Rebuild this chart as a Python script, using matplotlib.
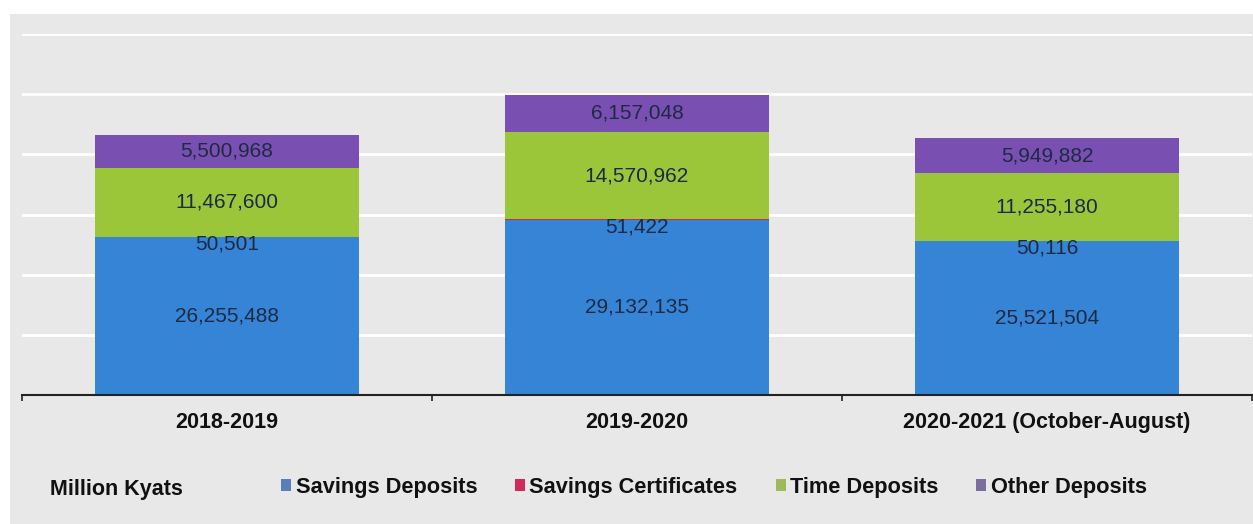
import numpy as np
import matplotlib.pyplot as plt
from matplotlib.patches import Patch, Rectangle

plt.rcParams['font.family'] = ['Liberation Sans', 'DejaVu Sans']

years = ['2018-2019', '2019-2020', '2020-2021 (October-August)']
series = ['Savings Deposits', 'Savings Certificates', 'Time Deposits', 'Other Deposits']
savings = [26255488, 29132135, 25521504]
certificates = [50501, 51422, 50116]
time_dep = [11467600, 14570962, 11255180]
other = [5500968, 6157048, 5949882]

bar_colors = ['#3684d6', '#d3264f', '#9cc63a', '#7a4fb2']
legend_colors = ['#5b7db8', '#d12a5a', '#9bbb59', '#7b6e9c']
label_offsets = [0, -5, 0, 0]

fig = plt.figure(figsize=(12.53, 5.24), dpi=100)
fig.patch.set_facecolor('white')
# grey chart area
fig.patches.append(Rectangle((10 / 1253, 0), 1, 1 - 14 / 524, transform=fig.transFigure,
                             facecolor='#e8e8e8', edgecolor='none', zorder=-10))

ax = fig.add_axes([22 / 1253, 129 / 524, 1230 / 1253, 361 / 524])
ax.set_facecolor('#e8e8e8')

x = np.arange(len(years))
bottom = np.zeros(len(years))
for vals, col, off in zip([savings, certificates, time_dep, other], bar_colors, label_offsets):
    vals = np.array(vals, dtype=float)
    ax.bar(x, vals, bottom=bottom, width=0.645, color=col, edgecolor='none', zorder=3)
    for xi, b, v in zip(x, bottom, vals):
        ax.annotate(f'{int(v):,}', (xi, b + v / 2), xytext=(0, off), textcoords='offset points',
                    ha='center', va='center', fontsize=15, color='#1c2a44', zorder=5)
    bottom += vals

ax.set_xlim(-0.5, 2.5)
ax.set_ylim(0, 60e6)
ax.set_yticks(np.arange(10e6, 60e6 + 1, 10e6))
ax.yaxis.grid(True, color='white', linewidth=2)
ax.set_axisbelow(True)
ax.tick_params(axis='y', left=False, labelleft=False)

ax.set_xticks(x)
ax.set_xticklabels(years, fontsize=15.5, fontweight='bold', color='#111111')
ax.set_xticks([-0.5, 0.5, 1.5, 2.5], minor=True)
ax.tick_params(axis='x', which='major', length=0, pad=12)
ax.tick_params(axis='x', which='minor', length=4, width=1.2, color='#222222', direction='out')

for s in ['top', 'right', 'left']:
    ax.spines[s].set_visible(False)
ax.spines['bottom'].set_color('#222222')
ax.spines['bottom'].set_linewidth(1.5)
ax.spines['bottom'].set_zorder(6)

fig.text(50 / 1253, 1 - 490 / 524, 'Million Kyats', fontsize=15.5, fontweight='bold',
         color='#111111', ha='left', va='center')

handles = [Patch(facecolor=c, edgecolor='none') for c in legend_colors]
fig.legend(handles, series, loc='center', bbox_to_anchor=(714 / 1253, 1 - 487 / 524), ncol=4,
           frameon=False, prop={'size': 15.7, 'weight': 'bold'}, handlelength=0.45,
           handleheight=0.45, handletextpad=0.2, columnspacing=1.75, labelcolor='#111111')

fig.savefig('out.png', dpi=100)
